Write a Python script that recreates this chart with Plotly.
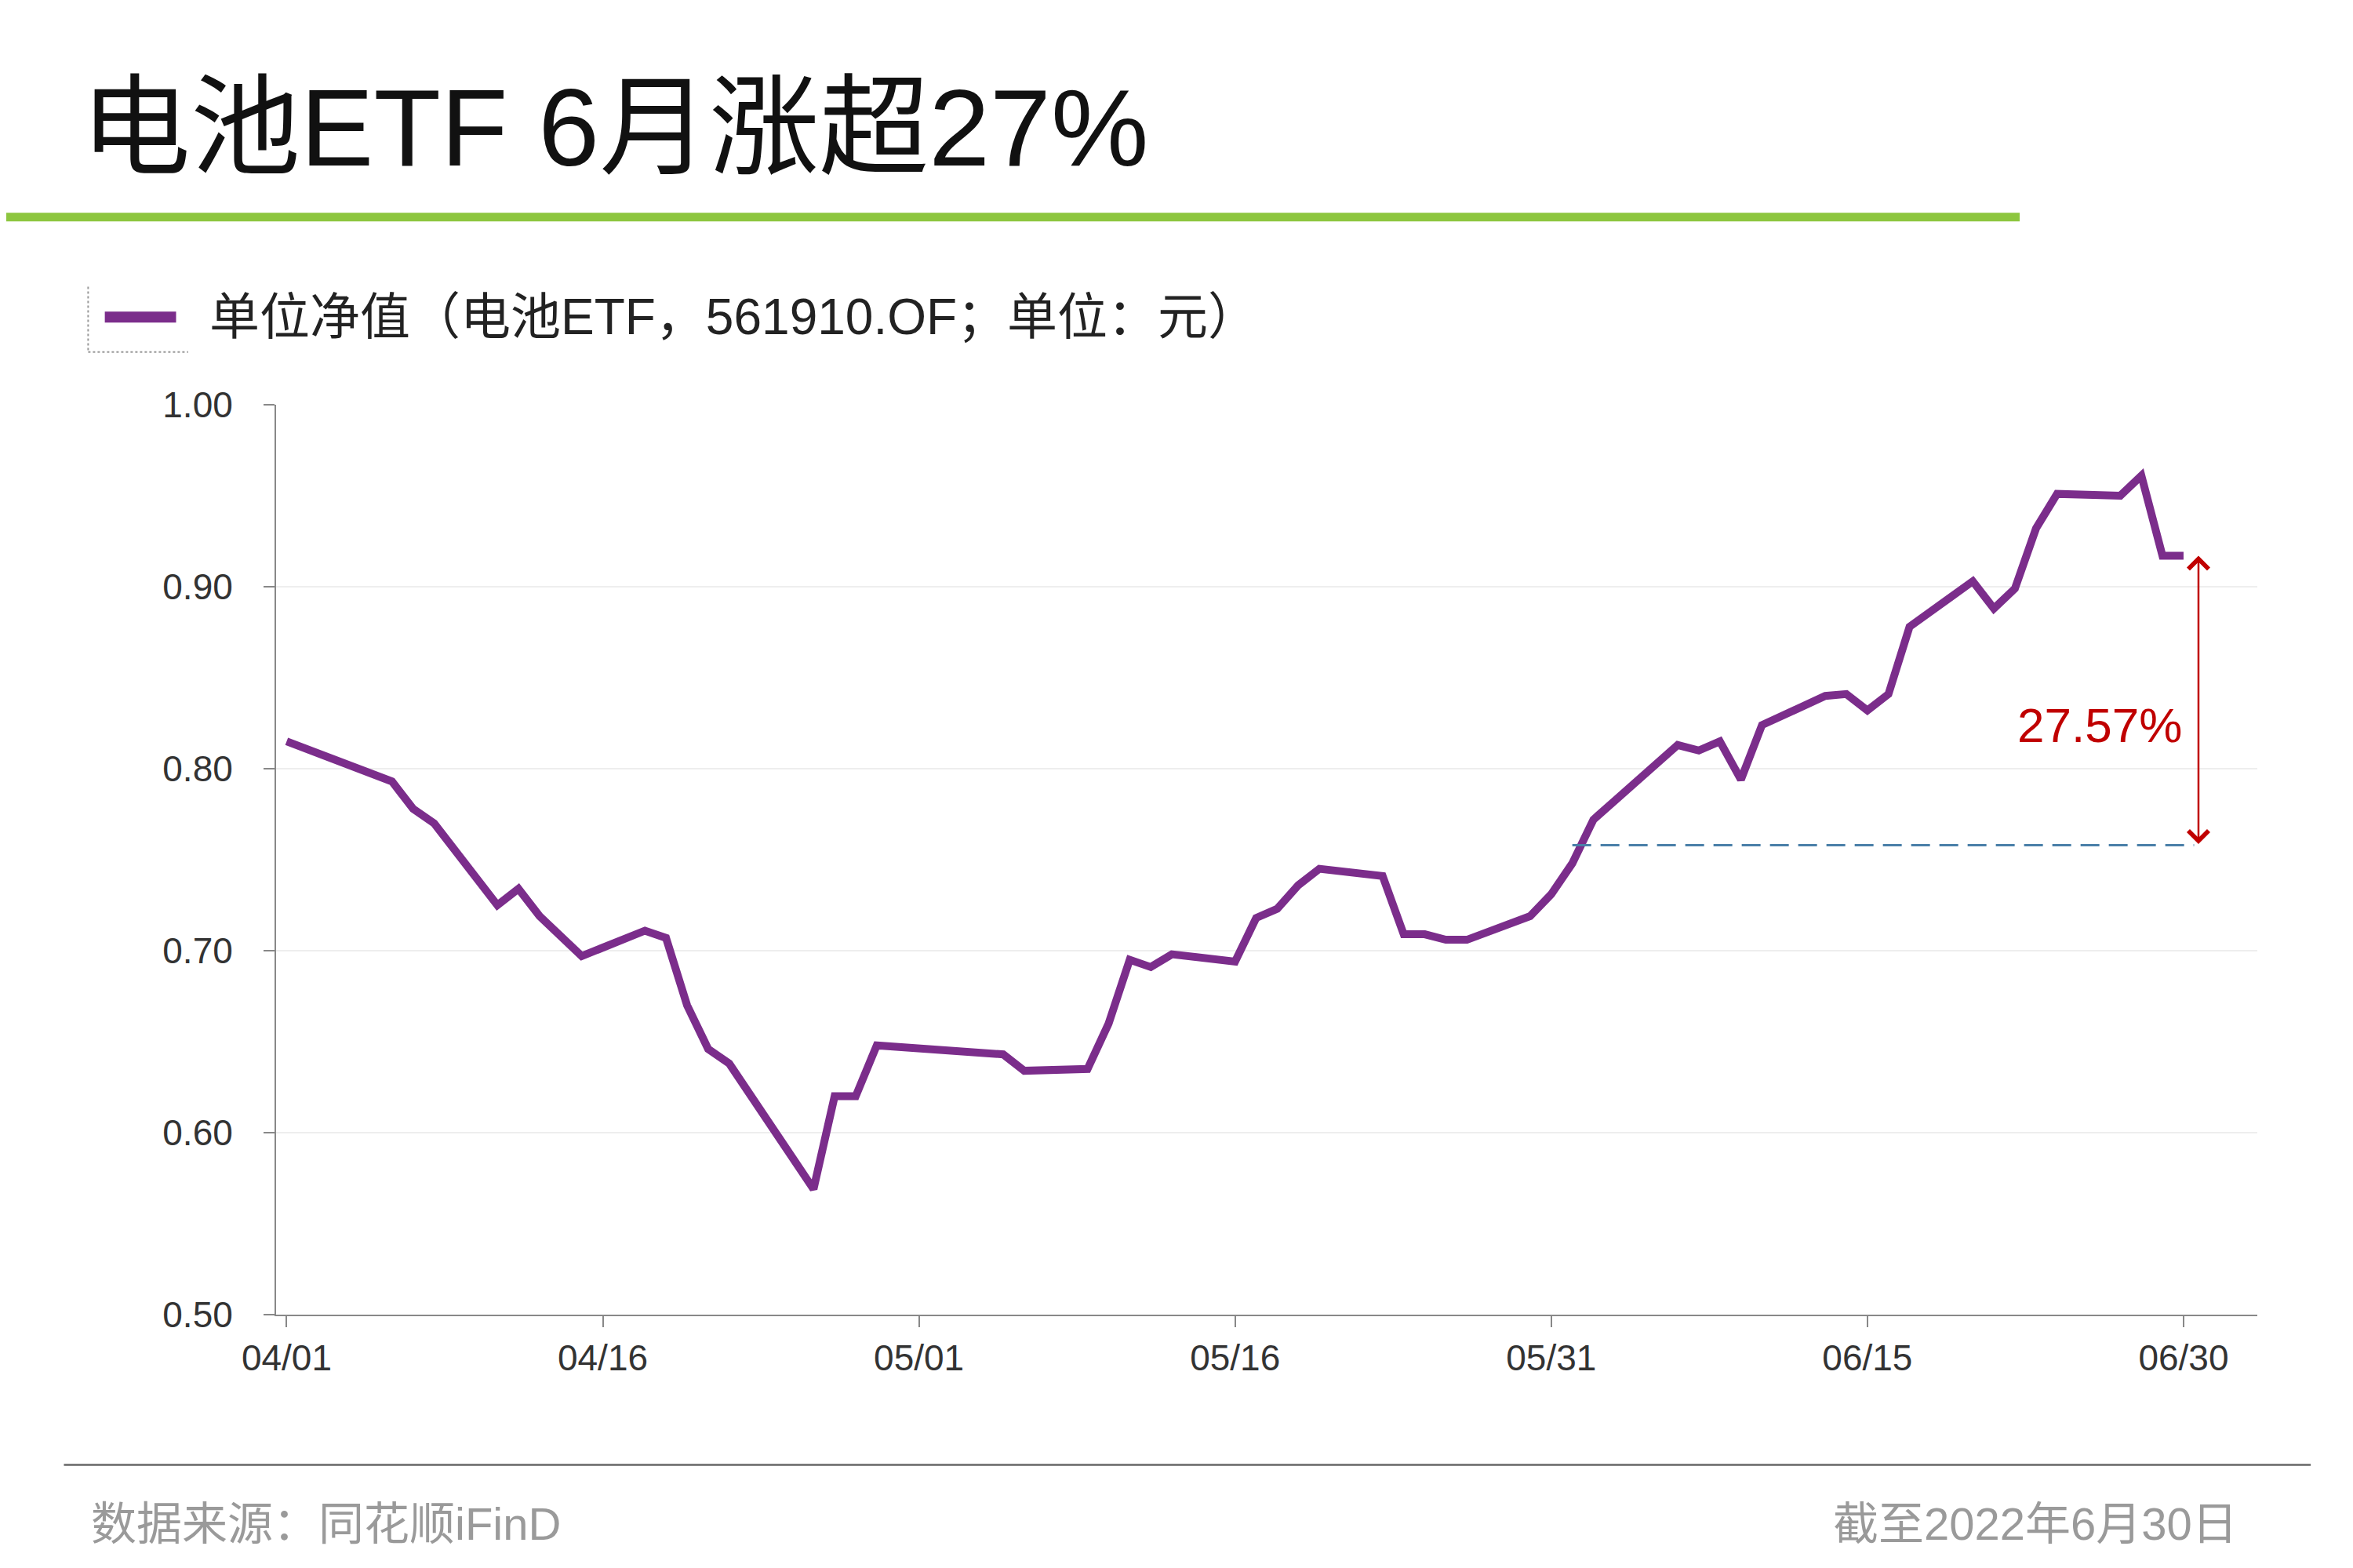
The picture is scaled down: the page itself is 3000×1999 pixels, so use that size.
import plotly.graph_objects as go

dates = ["2022-04-01","2022-04-06","2022-04-07","2022-04-08","2022-04-11","2022-04-12","2022-04-13","2022-04-14","2022-04-15",
         "2022-04-18","2022-04-19","2022-04-20","2022-04-21","2022-04-22","2022-04-26","2022-04-27","2022-04-28","2022-04-29",
         "2022-05-05","2022-05-06","2022-05-09","2022-05-10","2022-05-11","2022-05-12","2022-05-13","2022-05-16","2022-05-17",
         "2022-05-18","2022-05-19","2022-05-20","2022-05-23","2022-05-24","2022-05-25","2022-05-26","2022-05-27","2022-05-30",
         "2022-05-31","2022-06-01","2022-06-02","2022-06-06","2022-06-07","2022-06-08","2022-06-09","2022-06-10","2022-06-13",
         "2022-06-14","2022-06-15","2022-06-16","2022-06-17","2022-06-20","2022-06-21","2022-06-22","2022-06-23","2022-06-24",
         "2022-06-27","2022-06-28","2022-06-29","2022-06-30"]
nav = [0.815,0.793,0.778,0.770,0.725,0.734,0.719,0.708,0.697,
       0.711,0.707,0.670,0.646,0.638,0.569,0.620,0.620,0.648,
       0.643,0.634,0.635,0.660,0.695,0.691,0.698,0.694,0.718,
       0.723,0.736,0.745,0.741,0.709,0.709,0.706,0.706,0.719,
       0.731,0.748,0.772,0.813,0.810,0.815,0.794,0.824,0.840,
       0.841,0.832,0.841,0.878,0.903,0.888,0.899,0.932,0.951,
       0.950,0.961,0.917,0.917]
base_value = 0.758
base_start = "2022-06-01"
end_value = 0.917
gain_label = "27.57%"
tick_vals = ["2022-04-01","2022-04-16","2022-05-01","2022-05-16","2022-05-31","2022-06-15","2022-06-30"]
tick_text = ["04/01","04/16","05/01","05/16","05/31","06/15","06/30"]

W, H = 3000, 1999
L, R, T, B = 344, 130, 508, 331
S = 3000 / 1552
def px(x): return (x * S - L) / (W - L - R)
def py(y): return 1 - (y * S - T) / (H - T - B)

FONT = "Liberation Sans, Noto Sans CJK SC"
fig = go.Figure()
fig.add_trace(go.Scatter(x=dates, y=nav, mode="lines", line=dict(color="#7b2d8b", width=10), showlegend=False))
fig.add_trace(go.Scatter(x=[base_start, "2022-06-30 12:00"], y=[base_value, base_value], mode="lines",
                         line=dict(color="#4a7fa8", width=3, dash="24px,12px"), showlegend=False))
fig.add_annotation(x="2022-06-30 17:00", y=end_value, ax="2022-06-30 17:00", ay=base_value,
                   xref="x", yref="y", axref="x", ayref="y", showarrow=True, arrowhead=4, startarrowhead=4,
                   arrowside="end+start", arrowcolor="#c00000", arrowwidth=2.5, arrowsize=2, startarrowsize=2, text="")
fig.add_annotation(x="2022-06-30", y=0.824, text=gain_label, showarrow=False, xanchor="right",
                   font=dict(size=62, color="#c00000", family=FONT))

shapes = [
    dict(type="line", xref="paper", yref="paper", x0=px(0), x1=px(1328), y0=py(139), y1=py(139),
         line=dict(color="#8dc63f", width=11)),
    dict(type="line", xref="paper", yref="paper", x0=px(65), x1=px(112), y0=py(205), y1=py(205),
         line=dict(color="#7b2d8b", width=14)),
    dict(type="line", xref="paper", yref="paper", x0=px(54), x1=px(54), y0=py(185), y1=py(228),
         line=dict(color="#999999", width=2, dash="dot")),
    dict(type="line", xref="paper", yref="paper", x0=px(54), x1=px(120), y0=py(228), y1=py(228),
         line=dict(color="#999999", width=2, dash="dot")),
    dict(type="line", xref="paper", yref="paper", x0=px(38), x1=px(1520), y0=py(962), y1=py(962),
         line=dict(color="#666666", width=2.5)),
]
annos = [
    dict(x=px(48), y=py(80), text="电池ETF 6月涨超27%", xanchor="left", font=dict(size=140, color="#111111")),
    dict(x=px(133), y=py(205), text="单位净值（电池ETF，561910.OF；单位：元）", xanchor="left",
         font=dict(size=64, color="#222222")),
    dict(x=px(55), y=py(1001), text="数据来源：同花顺iFinD", xanchor="left", font=dict(size=58, color="#9a9a9a")),
    dict(x=px(1473), y=py(1001), text="截至2022年6月30日", xanchor="right", font=dict(size=58, color="#9a9a9a")),
]
for a in annos:
    fig.add_annotation(xref="paper", yref="paper", showarrow=False, yanchor="middle",
                       font=dict(family=FONT, **a.pop("font")), **a)

fig.update_layout(
    width=W, height=H, margin=dict(l=L, r=R, t=T, b=B),
    paper_bgcolor="white", plot_bgcolor="white", shapes=shapes,
    font=dict(family=FONT, size=46, color="#333333"),
    xaxis=dict(range=["2022-03-31 12:00", "2022-07-03 12:00"], tickvals=tick_vals, ticktext=tick_text,
               showgrid=False, showline=True, linecolor="#888888", linewidth=2,
               ticks="outside", ticklen=14, tickcolor="#888888", tickwidth=2, zeroline=False),
    yaxis=dict(range=[0.5, 1.0], dtick=0.1, tickformat=".2f", showgrid=True, gridcolor="#eeeeee", gridwidth=2,
               showline=True, linecolor="#888888", linewidth=2, ticks="outside", ticklen=14,
               tickcolor="#888888", tickwidth=2, zeroline=False, ticklabelstandoff=30),
)
fig.write_html("out.html")
